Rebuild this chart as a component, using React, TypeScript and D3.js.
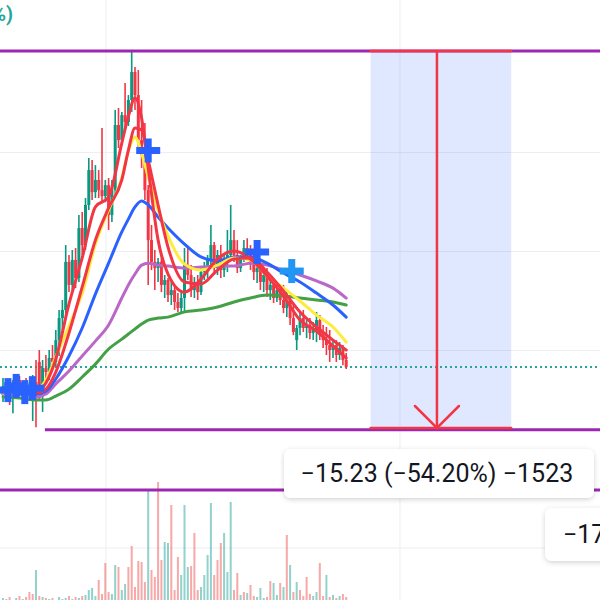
import React from 'react';
import * as d3 from 'd3';

const W = 600;
const H = 600;

// [open, high, low, close]
const ohlc: [number, number, number, number][] = [
  [14.20,14.89,13.92,14.57],[14.57,14.81,14.08,14.28],[14.28,14.61,13.80,14.08],[14.08,14.81,13.47,14.65],
  [14.65,15.01,14.32,14.81],[14.81,14.97,14.20,14.40],[14.40,14.73,14.08,14.57],[14.57,14.89,14.20,14.32],
  [14.32,14.69,14.00,14.48],[14.24,15.01,13.15,14.73],[14.73,15.62,12.90,14.08],[15.54,16.02,14.00,14.20],
  [14.20,15.62,13.52,15.29],[15.29,15.82,14.89,15.13],[15.13,16.02,14.81,15.70],[15.70,16.22,15.21,15.54],
  [15.54,16.83,15.37,16.42],[16.42,17.64,15.78,17.31],[17.31,18.04,16.83,17.64],[17.64,20.26,17.31,19.58],
  [19.58,19.86,18.36,18.65],[18.65,20.06,18.44,19.66],[19.66,20.14,18.52,18.93],[18.93,21.47,18.77,20.95],
  [20.95,21.60,19.86,20.26],[20.26,22.16,20.06,21.88],[21.88,23.78,21.68,23.29],[23.29,23.70,22.08,22.40],
  [22.40,23.49,22.16,22.89],[22.89,23.29,22.16,22.48],[22.48,24.99,21.99,22.24],[22.24,22.89,21.99,22.68],
  [22.68,22.97,20.87,21.47],[21.47,22.89,21.19,22.48],[22.48,25.72,22.16,25.11],[25.11,25.80,24.18,24.50],
  [24.50,25.64,24.30,25.51],[25.51,26.81,25.03,25.23],[25.23,26.32,25.07,26.12],[26.12,28.10,25.64,27.25],
  [27.25,27.45,25.72,26.32],[26.32,27.33,24.10,24.50],[24.50,26.12,23.37,23.90],[23.90,25.19,22.08,22.48],
  [22.48,22.69,18.65,20.46],[20.46,21.07,19.25,19.58],[19.58,20.06,18.44,19.33],[19.33,19.74,18.77,19.58],
  [19.58,19.86,18.36,18.65],[18.65,19.05,18.12,18.85],[18.85,18.93,17.96,18.24],[18.24,18.77,17.84,18.44],
  [18.44,18.65,17.64,17.96],[17.96,18.32,17.56,17.72],[17.72,18.36,17.51,18.12],[18.12,20.14,17.51,19.45],
  [19.45,20.18,18.85,19.05],[19.05,19.45,18.16,18.44],[18.44,18.97,18.12,18.77],[18.77,19.05,18.04,18.36],
  [18.36,19.37,18.24,19.17],[19.17,19.58,18.85,19.33],[19.33,19.86,18.93,19.66],[19.66,21.07,19.45,20.26],
  [20.26,20.38,19.05,19.33],[19.33,20.06,19.05,19.86],[19.86,20.26,18.93,19.25],[19.25,19.86,18.97,19.58],
  [19.58,20.87,19.17,19.86],[19.86,21.88,19.74,20.46],[20.46,20.87,19.58,19.86],[19.86,20.46,19.13,19.33],
  [19.33,19.86,19.17,19.74],[19.74,20.46,19.58,20.14],[20.14,20.54,19.74,19.98],[19.98,20.26,19.25,19.58],
  [19.58,20.06,18.85,19.17],[19.17,19.54,18.73,19.33],[19.33,19.58,18.44,18.77],[18.77,19.37,18.36,19.05],
  [19.05,19.33,18.16,18.44],[18.44,18.97,18.04,18.65],[18.65,18.85,17.92,18.12],[18.12,18.77,17.96,18.44],
  [18.44,18.65,17.84,18.04],[18.04,18.65,17.51,17.72],[17.72,18.44,17.35,18.04],[18.04,18.24,17.03,17.31],
  [17.31,17.84,16.62,16.75],[16.42,17.03,16.02,16.91],[16.91,17.56,16.62,17.31],[17.31,17.64,16.75,16.91],
  [16.91,17.23,16.50,17.03],[17.03,17.31,16.46,16.71],[16.71,17.15,16.42,16.83],[16.83,17.56,16.34,17.23],
  [17.23,17.43,16.42,16.62],[16.62,17.03,16.10,16.42],[16.42,16.95,15.82,16.22],[16.22,16.83,15.54,16.02],
  [16.02,16.42,15.70,16.22],[16.22,16.42,15.54,15.82],[15.82,16.34,15.62,16.10],[16.10,16.22,15.41,15.62],
  [15.62,15.90,15.25,15.33],
];

const volumes = [
  4,3,5,2,4,6,3,5,10,8,
  32,6,5,4,3,4,2,5,3,4,
  6,3,5,4,6,7,12,14,6,22,
  8,39,10,8,37,35,12,18,35,56,
  15,41,40,20,113,32,25,120,42,60,
  59,97,12,45,27,97,35,36,69,12,
  15,27,47,99,27,42,59,69,30,100,
  12,29,7,10,9,17,6,5,14,4,
  5,21,19,7,19,15,67,37,10,20,
  12,6,25,8,6,10,39,6,27,5,
  7,4,6,8,5,
];
const volumeDirs = (
  'udduududdd' + 'udududuuuu' + 'dududuuuud' + 'ddduuduudd' + 'dddduddddu' +
  'uddduuuddd' + 'uuuuddduuu' + 'ddududduuu' + 'dduudududu' + 'dddduuddud' + 'ududd'
).split('');

// moving averages sampled at these bar indices
const maIndex = [0,5,10,13,16,20,24,28,32,36,38,40,42,44,47,50,55,60,65,70,75,80,85,90,95,100,104];
const maRed1 = [14.40,14.48,14.32,14.69,15.66,17.88,19.74,21.80,22.20,24.38,25.47,26.20,25.39,23.37,20.46,19.09,18.36,18.89,19.70,20.02,19.70,19.01,18.20,17.23,16.79,16.18,15.70];
const maRed2 = [14.32,14.32,14.28,14.44,15.13,16.71,18.57,20.46,21.76,22.89,24.10,24.99,24.91,23.70,21.88,20.18,18.77,18.69,19.25,19.70,19.74,19.17,18.40,17.56,16.95,16.42,16.02];
const maYellow = [14.28,14.32,14.40,14.81,15.74,16.99,18.32,20.30,21.68,22.97,24.06,24.62,23.98,23.01,21.68,20.63,19.49,19.25,19.45,19.74,19.66,19.01,18.52,18.00,17.43,16.95,16.34];
const maBlue = [14.32,14.32,14.24,14.36,14.85,15.78,16.91,18.28,19.53,20.79,21.31,21.80,22.04,21.88,21.39,20.95,20.30,19.78,19.62,19.78,19.78,19.53,19.13,18.77,18.32,17.84,17.35];
const maPurple = [14.24,14.24,14.12,14.24,14.65,15.17,15.78,16.38,17.03,18.12,18.65,19.09,19.45,19.53,19.45,19.41,19.33,19.37,19.41,19.41,19.53,19.45,19.25,19.05,18.81,18.52,18.12];
const maGreen = [14.12,14.08,14.00,14.00,14.16,14.44,14.93,15.45,16.06,16.46,16.67,16.87,17.07,17.23,17.31,17.35,17.56,17.64,17.76,17.96,18.12,18.24,18.20,18.12,18.04,17.96,17.84];

// marker crosses: bar index, price
const crossIndex = [1.5, 4, 6.6, 8.9, 44, 77, 87.5];
const crossPrice = [14.40, 14.57, 14.32, 14.48, 24.08, 19.98, 19.21];

const priceGrid = [16, 20, 24];
const volumeGrid = [54];
const timeGrid = [31.2, 120.3];
const levelTop = 28.10;
const levelBottom = 12.80;
const levelBottomStart = 12.7;
const volumeLevel = 112;
const lastPrice = 15.33;
const measureFrom = 111.4;
const measureTo = 154;
const measureMid = 131.5;
const measureHigh = 28.10;
const measureLow = 12.87;
const measureLabel = '\u221215.23 (\u221254.20%) \u22121523';
const sideLabel = '\u2212172 bars, 172d';
const legendTail = '0.00%)';

const UP = '#089981';
const DOWN = '#f23645';

export default function App() {
  const x = d3.scaleLinear().domain([0, 104]).range([3, 346.2]);
  const y = d3.scaleLinear().domain([12.87, 28.1]).range([428, 51]);
  const v = d3.scaleLinear().domain([0, 120]).range([602, 482]);

  const maSeries = [
    { values: maGreen, color: '#43a047' },
    { values: maPurple, color: '#ba68c8' },
    { values: maBlue, color: '#2962ff' },
    { values: maYellow, color: '#ffeb3b' },
    { values: maRed2, color: '#f23645' },
    { values: maRed1, color: '#f23645' },
  ];
  const line = d3
    .line<[number, number]>()
    .x((d) => x(d[0]))
    .y((d) => y(d[1]))
    .curve(d3.curveMonotoneX);

  const font = "Roboto, 'Noto Sans', 'DejaVu Sans', sans-serif";
  const mx1 = x(measureFrom);
  const mx2 = x(measureTo);
  const mxm = x(measureMid);
  const myTop = y(measureHigh);
  const myBot = y(measureLow);

  return (
    <svg
      width={W}
      height={H}
      style={{ position: 'fixed', left: 0, top: 0, background: '#fff' }}
    >
      <defs>
        <filter id="sh" x="-10%" y="-30%" width="120%" height="170%">
          <feDropShadow dx="0" dy="1.5" stdDeviation="2.5" floodColor="#000" floodOpacity="0.18" />
        </filter>
      </defs>
      <rect width={W} height={H} fill="#fff" />
      {/* grid */}
      {priceGrid.map((p) => (
        <line key={'pg' + p} x1={0} x2={W} y1={y(p)} y2={y(p)} stroke="#eceef2" strokeWidth={1} />
      ))}
      {volumeGrid.map((p) => (
        <line key={'vg' + p} x1={0} x2={W} y1={v(p)} y2={v(p)} stroke="#eceef2" strokeWidth={1} />
      ))}
      {timeGrid.map((t) => (
        <line key={'tg' + t} x1={x(t)} x2={x(t)} y1={0} y2={H} stroke="#eceef2" strokeWidth={1} />
      ))}
      {/* measure area */}
      <rect x={mx1} y={myTop} width={mx2 - mx1} height={myBot - myTop} fill="rgba(41,98,255,0.15)" />
      {/* volume */}
      {volumes.map((vol, i) => (
        <rect
          key={'v' + i}
          x={x(i) - 1}
          y={v(vol)}
          width={2}
          height={v(0) - v(vol)}
          fill={volumeDirs[i] === 'u' ? 'rgba(38,166,154,0.5)' : 'rgba(239,83,80,0.5)'}
        />
      ))}
      {/* last price */}
      <line x1={0} x2={W} y1={y(lastPrice)} y2={y(lastPrice)} stroke="#26a69a" strokeWidth={2} strokeDasharray="2 3" />
      {/* candles */}
      {ohlc.map(([o, h, l, c], i) => {
        const col = c >= o ? UP : DOWN;
        const top = y(Math.max(o, c));
        const bot = y(Math.min(o, c));
        return (
          <g key={'c' + i}>
            <line x1={x(i)} x2={x(i)} y1={y(h)} y2={y(l)} stroke={col} strokeWidth={1.6} />
            <rect x={x(i) - 1.5} y={top} width={3} height={Math.max(1.5, bot - top)} fill={col} />
          </g>
        );
      })}
      {/* moving averages */}
      {maSeries.map((s, k) => (
        <path
          key={'ma' + k}
          d={line(maIndex.map((idx, j) => [idx, s.values[j]] as [number, number])) || ''}
          fill="none"
          stroke={s.color}
          strokeWidth={3}
          strokeLinejoin="round"
          strokeLinecap="round"
        />
      ))}
      {/* crosses */}
      {crossIndex.map((ci, k) => {
        const cx = x(ci);
        const cy = y(crossPrice[k]);
        const col = k === 6 ? '#2196f3' : '#2962ff';
        return (
          <g key={'x' + k} fill={col}>
            <rect x={cx - 12} y={cy - 3.5} width={24} height={7} />
            <rect x={cx - 3.5} y={cy - 12} width={7} height={24} />
          </g>
        );
      })}
      {/* horizontal purple levels */}
      <line x1={0} x2={W} y1={y(levelTop)} y2={y(levelTop)} stroke="#9c27b0" strokeWidth={3} />
      <line x1={x(levelBottomStart)} x2={W} y1={y(levelBottom)} y2={y(levelBottom)} stroke="#9c27b0" strokeWidth={3} />
      <line x1={0} x2={W} y1={v(volumeLevel)} y2={v(volumeLevel)} stroke="#9c27b0" strokeWidth={3} />
      {/* measure lines */}
      <g stroke="#f23645" strokeWidth={2.5} fill="none" strokeLinecap="round">
        <line x1={mx1} x2={mx2} y1={myTop} y2={myTop} />
        <line x1={mx1} x2={mx2} y1={myBot} y2={myBot} />
        <line x1={mxm} x2={mxm} y1={myTop} y2={myBot} />
        <polyline points={`${mxm - 22},${myBot - 22} ${mxm},${myBot} ${mxm + 22},${myBot - 22}`} />
      </g>
      {/* labels */}
      <g filter="url(#sh)">
        <rect x={284} y={449} width={310} height={49} rx={7} fill="#fff" />
        <rect x={545} y={508} width={80} height={53} rx={7} fill="#fff" />
      </g>
      <text x={mxm} y={482} textAnchor="middle" fontFamily={font} fontSize={25} fill="#131722">
        {measureLabel}
      </text>
      <text x={563} y={543} fontFamily={font} fontSize={25} fill="#131722">
        {sideLabel}
      </text>
      <text x={13} y={21} textAnchor="end" fontFamily={font} fontSize={20} fontWeight={700} fill="#26a69a">
        {legendTail}
      </text>
    </svg>
  );
}
